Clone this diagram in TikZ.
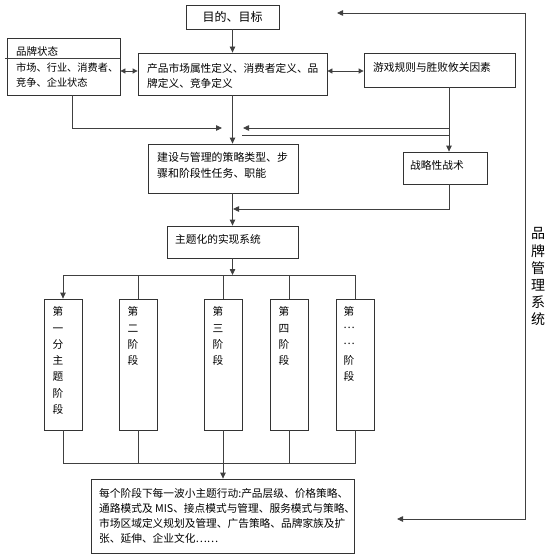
\documentclass[tikz,border=0pt]{standalone}
\usepackage{fontspec}
\setmainfont{Noto Sans CJK SC}
\usetikzlibrary{arrows.meta}
\tikzset{
  box/.style={draw=black!80, line width=0.8pt, inner sep=0pt},
  ln/.style={draw=black!75, line width=0.8pt},
  arr/.style={ln, -{Triangle[length=6pt,width=5.5pt]}},
  darr/.style={ln, {Triangle[length=5pt,width=5pt]}-{Triangle[length=5pt,width=5pt]}},
  txt/.style={inner sep=0pt, font=\fontsize{10.7}{15}\selectfont, align=left, text=black},
  stg/.style={inner sep=0pt, font=\fontsize{10.7}{16.3}\selectfont, align=center, anchor=north, text=black},
}
\begin{document}
\begin{tikzpicture}[x=1pt,y=-1pt]
\useasboundingbox (0,0) rectangle (550,559);
% boxes
\node[box, minimum width=93, minimum height=24, font=\fontsize{12}{14}\selectfont] (goal) at (232.5,17) {目的、目标};
\node[box, minimum width=113, minimum height=57] (state) at (63.5,66.5) {};
\node[box, minimum width=189, minimum height=42] (prod) at (232.5,74) {};
\node[box, minimum width=151, minimum height=34] (game) at (439.5,70) {};
\node[box, minimum width=150, minimum height=49] (build) at (223,168.5) {};
\node[box, minimum width=84, minimum height=32] (tact) at (445,168) {};
\node[box, minimum width=131, minimum height=32] (theme) at (232.5,242) {};
\node[box, minimum width=38, minimum height=131] (s1) at (63,364.5) {};
\node[box, minimum width=38, minimum height=131] (s2) at (138,364.5) {};
\node[box, minimum width=38, minimum height=131] (s3) at (223,364.5) {};
\node[box, minimum width=38, minimum height=131] (s4) at (289,364.5) {};
\node[box, minimum width=38, minimum height=131] (s5) at (355.5,364.5) {};
\node[box, minimum width=263, minimum height=74] (bottom) at (222.5,516) {};
% texts
\node[txt, anchor=west, font=\fontsize{10.5}{15}\selectfont] (stT) at (16,52) {品牌状态};
\node[txt, anchor=west, font=\fontsize{10.2}{15}\selectfont] (stB) at (16,75.5) {市场、行业、消费者、\\竞争、企业状态};
\node[txt, anchor=west] (prT) at (147,75.5) {产品市场属性定义、消费者定义、品\\牌定义、竞争定义};
\node[txt, anchor=west] (gmT) at (373,67) {游戏规则与胜败攸关因素};
\node[txt, anchor=west, font=\fontsize{10.9}{16}\selectfont] (bdT) at (157,165) {建设与管理的策略类型、步\\骤和阶段性任务、职能};
\node[txt, anchor=west] (tcT) at (410,165) {战略性战术};
\node[txt, anchor=west] (thT) at (175,239) {主题化的实现系统};
\node[stg] (s1T) at (58,306.5) {第\\一\\分\\主\\题\\阶\\段};
\node[stg] (s2T) at (133,306.5) {第\\二\\阶\\段};
\node[stg] (s3T) at (218,306.5) {第\\三\\阶\\段};
\node[stg] (s4T) at (284,306.5) {第\\四\\阶\\段};
\node[stg] (s5T) at (349,306.5) {第\\\raisebox{0.35em}{…}\\\raisebox{0.35em}{…}\\阶\\段};
\node[txt, anchor=west] (btT) at (99,515.5) {每个阶段下每一波小主题行动:产品层级、价格策略、\\通路模式及 MIS、接点模式与管理、服务模式与策略、\\市场区域定义规划及管理、广告策略、品牌家族及扩\\张、延伸、企业文化……};
\node[stg, font=\fontsize{14}{17.2}\selectfont] (sysT) at (538,227.5) {品\\牌\\管\\理\\系\\统};
% divider in state box
\draw[ln] (5,58) -- (state.east |- 0,58);
% coordinates
\coordinate (dy) at (0,71);
\coordinate (jx) at (449,0);
\coordinate (j1) at (449,128);
\coordinate (j2) at (449,135);
\coordinate (a1) at (243,128);
\coordinate (a2) at (242,135);
\coordinate (l1) at (72,128);
\coordinate (l2) at (222,128);
\coordinate (m1) at (233,209);
\coordinate (bt) at (0,275);
\coordinate (bb) at (0,463);
\coordinate (fx) at (525,0);
\coordinate (fTop) at (337,13);
\coordinate (fBot) at (397,519);
% connectors
\draw[arr] (goal.south) -- (prod.north);
\draw[darr] (state.east |- dy) -- (prod.west |- dy);
\draw[darr] (prod.east |- dy) -- (game.west |- dy);
\draw[ln] (game.south -| jx) -- (j2);
\draw[arr] (j2) -- (tact.north -| jx);
\draw[arr] (j1) -- (a1);
\draw[ln] (j2) -- (a2);
\draw[arr] (state.south -| l1) -- (l1) -- (l2);
\draw[arr] (prod.south) -- (prod.south |- build.north);
\draw[arr] (tact.south -| jx) |- (m1);
\draw[arr] (build.south -| theme.north) -- (theme.north);
\draw[arr] (theme.south) -- (theme.south |- bt);
\draw[ln] (s1.north |- bt) -- (s5.north |- bt);
\draw[arr] (s1.north |- bt) -- (s1.north);
\draw[ln] (s2.north |- bt) -- (s2.north);
\draw[ln] (s3.north |- bt) -- (s3.north);
\draw[ln] (s4.north |- bt) -- (s4.north);
\draw[ln] (s5.north |- bt) -- (s5.north);
\draw[ln] (s1.south) -- (s1.south |- bb) -- (s5.south |- bb) -- (s5.south);
\draw[ln] (s2.south) -- (s2.south |- bb);
\draw[ln] (s3.south) -- (s3.south |- bb);
\draw[ln] (s4.south) -- (s4.south |- bb);
\draw[arr] (s3.south |- bb) -- (s3.south |- bottom.north);
\draw[arr] (fx |- fTop) -- (fTop);
\draw[arr] (fx |- fTop) -- (fx |- fBot) -- (fBot);
\end{tikzpicture}
\end{document}
